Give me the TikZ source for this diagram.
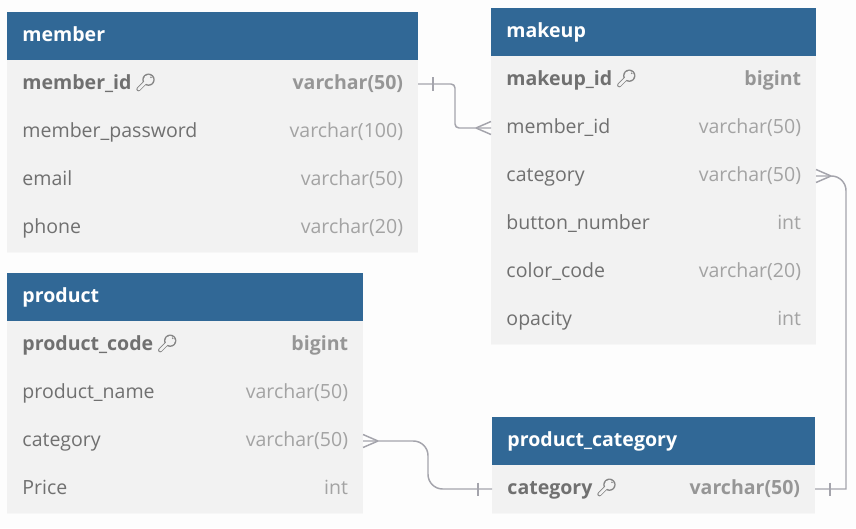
\documentclass[tikz,border=0pt]{standalone}
\usepackage{fontspec}
\usetikzlibrary{calc}
\setmainfont{Open Sans}
\definecolor{pagebg}{HTML}{FDFDFD}
\definecolor{headbg}{HTML}{316896}
\definecolor{rowbg}{HTML}{F2F2F2}
\definecolor{sepline}{HTML}{F7F7F7}
\definecolor{nametxt}{HTML}{707070}
\definecolor{typetxt}{HTML}{A3A3A3}
\definecolor{boldtype}{HTML}{969696}
\definecolor{linkc}{HTML}{A4A4AC}
\tikzset{
  x=0.75pt,y=-0.75pt,
  box/.style={anchor=north west,inner sep=0pt,outer sep=0pt,minimum height=36pt},
  headbox/.style={box,fill=headbg},
  rowbox/.style={box,fill=rowbg},
  txt/.style={inner sep=0pt,outer sep=0pt,font=\fontsize{14.65}{18}\selectfont},
  headtxt/.style={txt,anchor=base west,xshift=11.6pt,yshift=-3.9pt,text=white,font=\fontsize{14.65}{18}\selectfont\bfseries},
  nametx/.style={txt,anchor=base west,xshift=11.6pt,yshift=-3.9pt,text=nametxt},
  typetx/.style={txt,anchor=base east,xshift=-11.2pt,yshift=-3.9pt,text=typetxt},
  pkname/.style={nametx,font=\fontsize{14.65}{18}\selectfont\bfseries},
  pktype/.style={typetx,text=boldtype,font=\fontsize{14.65}{18}\selectfont\bfseries},
  link/.style={draw=linkc,line width=1.1pt},
  pics/keyicon/.style={code={
    \draw[line width=3.2pt,line cap=round,nametxt!85] (7,0) -- (15,-8);
    \fill[nametxt!85] (17,-9.5) circle (6.2);
    \draw[line width=2pt,line cap=round,rowbg] (7,0) -- (15,-8);
    \fill[rowbg] (17,-9.5) circle (4.9);
    \fill[nametxt!85] (19.5,-12) circle (0.9);
  }}
}
% name, x, ytop, width (px), left, right, left style, right style
\newcommand{\erow}[8]{%
  \node[rowbox,minimum width={#4*0.75pt}] (#1) at (#2,#3) {};
  \draw[sepline,line width=0.6pt] (#2,#3+48) -- (#2+#4,#3+48);
  \node[#7] (#1L) at (#1.west) {#5};
  \node[#8] (#1R) at (#1.east) {#6};
}
\newcommand{\ehead}[5]{%
  \node[headbox,minimum width={#4*0.75pt}] (#1) at (#2,#3) {};
  \node[headtxt] (#1L) at (#1.west) {#5};
}
\begin{document}
\begin{tikzpicture}
\useasboundingbox (0,0) rectangle (856,528);
\fill[pagebg] (0,0) rectangle (856,528);
% member
\ehead{mh}{7}{12}{411}{member}
\erow{ma}{7}{60}{411}{member\_id}{varchar(50)}{pkname}{pktype}
\erow{mb}{7}{108}{411}{member\_password}{varchar(100)}{nametx}{typetx}
\erow{mc}{7}{156}{411}{email}{varchar(50)}{nametx}{typetx}
\erow{md}{7}{204}{411}{phone}{varchar(20)}{nametx}{typetx}
\pic (keyA) at (maL.base east) {keyicon};
% makeup
\ehead{kh}{491}{8}{325}{makeup}
\erow{ka}{491}{56}{325}{makeup\_id}{bigint}{pkname}{pktype}
\erow{kb}{491}{104}{325}{member\_id}{varchar(50)}{nametx}{typetx}
\erow{kc}{491}{152}{325}{category}{varchar(50)}{nametx}{typetx}
\erow{kd}{491}{200}{325}{button\_number}{int}{nametx}{typetx}
\erow{ke}{491}{248}{325}{color\_code}{varchar(20)}{nametx}{typetx}
\erow{kf}{491}{296}{325}{opacity}{int}{nametx}{typetx}
\pic (keyB) at (kaL.base east) {keyicon};
% product
\ehead{ph}{7}{273}{356}{product}
\erow{pa}{7}{321}{356}{product\_code}{bigint}{pkname}{pktype}
\erow{pb}{7}{369}{356}{product\_name}{varchar(50)}{nametx}{typetx}
\erow{pc}{7}{417}{356}{category}{varchar(50)}{nametx}{typetx}
\erow{pd}{7}{465}{356}{Price}{int}{nametx}{typetx}
\pic (keyC) at (paL.base east) {keyicon};
% product_category
\ehead{ch}{492}{417}{323}{product\_category}
\erow{ca}{492}{465}{323}{category}{varchar(50)}{pkname}{pktype}
\pic (keyD) at (caL.base east) {keyicon};
% routing columns
\coordinate (r1) at (455,0);
\coordinate (r2) at (428,0);
\coordinate (r3) at (846,0);
% member -> makeup
\draw[link,rounded corners=3pt] (ma.east) -- (ma.east -| r1) -- (kb.west -| r1) -- (kb.west);
\draw[link] (ma.east) ++(15,-6.5) -- ++(0,13);
\draw[link] (kb.west) ++(-15,0) -- ++(15,-6.5) ++(-15,6.5) -- ++(15,6.5);
% product -> product_category
\draw[link,rounded corners=11pt] (pc.east) -- (pc.east -| r2) -- (ca.west -| r2) -- (ca.west);
\draw[link] (ca.west) ++(-14,-6.5) -- ++(0,13);
\draw[link] (pc.east) ++(15,0) -- ++(-15,-6.5) ++(15,6.5) -- ++(-15,6.5);
% makeup -> product_category
\draw[link] (kc.east) [rounded corners=11pt] -- (kc.east -| r3) [sharp corners] -- (ca.east -| r3) -- (ca.east);
\draw[link] (ca.east) ++(15,-6.5) -- ++(0,13);
\draw[link] (kc.east) ++(15,0) -- ++(-15,-6.5) ++(15,6.5) -- ++(-15,6.5);
\end{tikzpicture}
\end{document}
